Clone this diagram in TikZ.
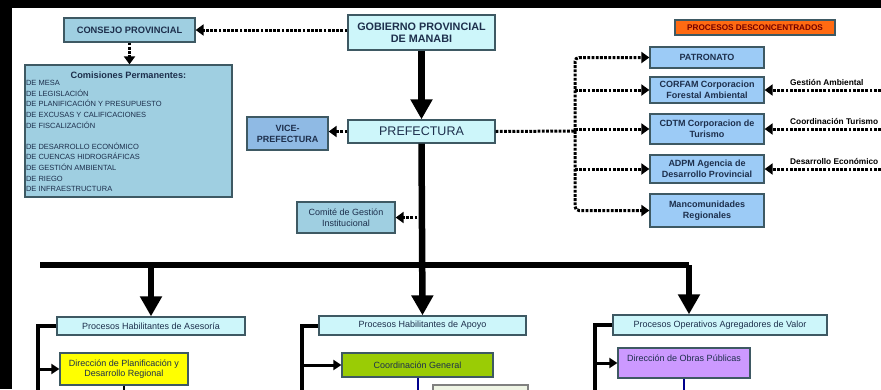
\documentclass[tikz,border=0pt]{standalone}
\usepackage{fontspec}
\setmainfont{Liberation Sans}
\usetikzlibrary{arrows.meta}
\definecolor{cyanbox}{HTML}{CDF6FA}
\definecolor{steelbox}{HTML}{9FCFE1}
\definecolor{bluebox}{HTML}{9CCBF6}
\definecolor{orangebox}{HTML}{FF6A12}
\definecolor{yellowbox}{HTML}{FFFF00}
\definecolor{greenbox}{HTML}{9ACC05}
\definecolor{lilacbox}{HTML}{CC99FF}
\definecolor{paleGreen}{HTML}{EEF4E4}
\definecolor{frame}{HTML}{3E5963}
\definecolor{ink}{HTML}{1D2F4C}
\colorlet{darkred}{red!45!black}
\colorlet{navy}{blue!55!black}
\newcommand\sz[2]{\fontsize{#1}{#2}\selectfont}
\tikzstyle{box}=[draw=frame, line width=1.3pt, inner sep=0pt, align=center, text=ink]
\tikzstyle{box cyan}=[box, fill=cyanbox]
\tikzstyle{box steel}=[box, fill=steelbox]
\tikzstyle{box blue}=[box, fill=bluebox, font=\bfseries\sz{9}{10.5}]
\tikzstyle{small}=[font=\sz{9}{10.5}]
\tikzstyle{dots}=[line width=3pt, dash pattern=on 2.8pt off 1.4pt]
\tikzstyle{dots arrow}=[dots, -{Triangle[length=8pt, width=11pt]}]
\tikzstyle{trunk}=[line width=6.5pt]
\tikzstyle{trunk arrow}=[trunk, -{Triangle[length=20pt, width=21pt]}]
\tikzstyle{bracket}=[line width=4pt]
\tikzstyle{bracket arrow}=[line width=3pt, -{Triangle[length=8pt, width=10pt]}]

\begin{document}
\begin{tikzpicture}[x=1pt, y=-1pt]
      \useasboundingbox (0,0) rectangle (881,389);
      \clip (0,0) rectangle (881,389);
      \fill[black] (0,0) rectangle (881,389);
      \fill[white] (12,8) rectangle (881,389);

      % TOP
      \node[box cyan, minimum width=147pt, minimum height=35pt, font=\bfseries\sz{10.8}{12.5}]
        (gob) at (421.5,32.5) {GOBIERNO PROVINCIAL\\DE MANABI};
      \node[box cyan, minimum width=147pt, minimum height=23pt, font=\sz{12.5}{14}]
        (pref) at (421.5,131.5) {PREFECTURA};
      \node[box steel, minimum width=81pt, minimum height=33pt, fill=steelbox!90!blue, font=\bfseries\sz{9}{11}]
        (vice) at (287.5,133.5) {VICE-\\PREFECTURA};
      \node[box steel, minimum width=98pt, minimum height=31pt, small]
        (comite) at (346,217.5) {Comité de Gestión\\Institucional};

      % CONSEJO AND COMISIONES
      \node[box steel, minimum width=131pt, minimum height=24pt, font=\bfseries\sz{9.3}{10}]
        (consejo) at (129.5,30) {CONSEJO PROVINCIAL};
      \node[box steel, minimum width=207pt, minimum height=132pt]
        (comis) at (128.5,131) {};
      \node[anchor=north, text=ink, font=\bfseries\sz{9.2}{10}]
        (comis-title) at ([yshift=-4pt]comis.north) {Comisiones Permanentes:};
      \node[anchor=north west, align=left, inner sep=0pt, text=ink, font=\sz{7.5}{10.6}]
        (comis-list) at ([xshift=1.5pt, yshift=-16pt]comis.north west)
        {DE MESA\\DE LEGISLACIÓN\\DE PLANIFICACIÓN Y PRESUPUESTO\\DE EXCUSAS Y CALIFICACIONES\\DE FISCALIZACIÓN\\[10.6pt]
         DE DESARROLLO ECONÓMICO\\DE CUENCAS HIDROGRÁFICAS\\DE GESTIÓN AMBIENTAL\\DE RIEGO\\DE INFRAESTRUCTURA};

      % PROCESOS DESCONCENTRADOS
      \node[box, fill=orangebox, minimum width=160pt, minimum height=15pt, text=darkred, font=\bfseries\sz{8.2}{9}]
        (desc) at (755,27.5) {PROCESOS DESCONCENTRADOS};
      \node[box blue, minimum width=114pt, minimum height=21pt] (patr) at (707,57.5) {PATRONATO};
      \node[box blue, minimum width=114pt, minimum height=26pt] (corfam) at (707,90) {CORFAM Corporacion\\Forestal Ambiental};
      \node[box blue, minimum width=114pt, minimum height=30pt] (cdtm) at (707,129) {CDTM Corporacion de\\Turismo};
      \node[box blue, minimum width=114pt, minimum height=28pt] (adpm) at (707,169) {ADPM Agencia de\\Desarrollo Provincial};
      \node[box blue, minimum width=114pt, minimum height=33pt] (manc) at (707,210.5) {Mancomunidades\\Regionales};

      % PROCESOS (BOTTOM)
      \node[box cyan, minimum width=188pt, minimum height=18pt, small]
        (asesoria) at (151,326) {Procesos Habilitantes de Asesoría};
      \node[box, fill=yellowbox, minimum width=128pt, minimum height=32pt, small]
        (plan) at (124,369) {Dirección de Planificación y\\Desarrollo Regional};
      \node[box cyan, minimum width=207pt, minimum height=19pt, small]
        (apoyo) at (422.5,325.5) {Procesos Habilitantes de Apoyo};
      \node[box, fill=greenbox, minimum width=151pt, minimum height=24pt, small]
        (coord) at (417.5,365) {Coordinación General};
      \node[box, fill=paleGreen, draw=gray, minimum width=95pt, minimum height=20pt]
        (apoyo-sub) at (480.5,395) {};
      \node[box cyan, minimum width=214pt, minimum height=20pt, small]
        (operativos) at (720,325) {Procesos Operativos Agregadores de Valor};
      \node[box, fill=lilacbox, minimum width=132pt, minimum height=30pt, small, text height=6.5pt, text depth=10.5pt]
        (obras) at (684,363) {Dirección de Obras Públicas};

      % CONNECTORS
      \coordinate (hub) at (575,131);
      \coordinate (lblx) at (790,0);
      \coordinate (edge) at (885,0);
      \coordinate (bar-l) at (40,265);
      \coordinate (bar-r) at (689,265);
      \coordinate (low) at (0,395);

      \draw[dots arrow] (gob.west |- consejo.east) -- (consejo.east);
      \draw[dots arrow] (consejo.south) -- (consejo.south |- comis.north);
      \draw[trunk arrow] (gob.south) -- (pref.north);
      \draw[dots arrow] (pref.west) -- (pref.west -| vice.east);
      \draw[dots] (pref.east) -- (hub);
      \draw[dots arrow, rounded corners=4pt] (hub) |- (patr.west);
      \draw[dots arrow, rounded corners=4pt] (hub) |- (manc.west);
      \foreach \b/\t in {corfam/Gestión Ambiental, cdtm/Coordinación Turismo, adpm/Desarrollo Económico}{
        \draw[dots arrow] (edge |- \b.east) -- (\b.east);
        \draw[dots arrow] (hub |- \b.west) -- (\b.west);
        \node[anchor=west, inner sep=0pt, font=\bfseries\sz{8.3}{10}]
          (lbl-\b) at ([yshift=8pt]lblx |- \b.east) {\t};
      }

      \draw[dots arrow] (pref.south |- comite.east) -- (comite.east);
      \draw[trunk arrow] (pref.south) -- (apoyo.north);
      \draw[trunk] (bar-l) -- (bar-r);
      \draw[trunk arrow] (asesoria.north |- bar-l) -- (asesoria.north);
      \draw[trunk arrow] (bar-r) -- (bar-r |- operativos.north);

      % BRACKETS
      \draw[bracket] (asesoria.west) -| (low -| 38,0);
      \draw[bracket arrow] (plan.west -| 38,0) -- (plan.west);
      \draw[bracket] (apoyo.west) -| (low -| 302,0);
      \draw[bracket arrow] (coord.west -| 302,0) -- (coord.west);
      \draw[bracket] (operativos.west) -| (low -| 595,0);
      \draw[bracket arrow] (obras.west -| 595,0) -- (obras.west);

      \draw[line width=2pt] (plan.south) -- (plan.south |- low);
      \draw[line width=2pt, navy] (coord.south) -- (coord.south |- low);
      \draw[line width=2pt, navy] (obras.south) -- (obras.south |- low);
\end{tikzpicture}
\end{document}
